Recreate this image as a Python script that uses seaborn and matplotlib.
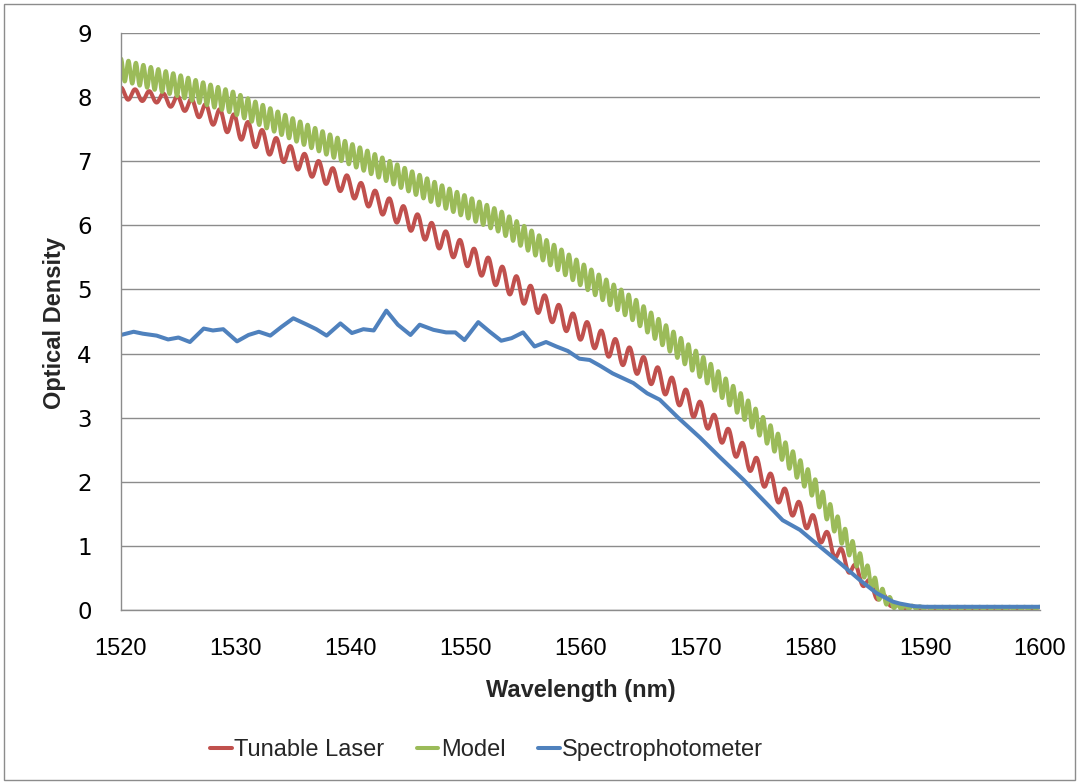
import numpy as np
import pandas as pd
import matplotlib
matplotlib.use("Agg")
import matplotlib.pyplot as plt
import seaborn as sns
from matplotlib.patches import Rectangle

# ---------------- data ----------------
x_ticks = [1520, 1530, 1540, 1550, 1560, 1570, 1580, 1590, 1600]
y_ticks = [0, 1, 2, 3, 4, 5, 6, 7, 8, 9]
series_names = ["Tunable Laser", "Model", "Spectrophotometer"]

# Model: centre of the fringe band, fringe half-amplitude, fringe period
model_wl = [1520, 1525, 1529.7, 1535.6, 1541.4, 1544.3, 1548, 1553, 1558.2,
            1564.7, 1571.0, 1574.7, 1577.4, 1580.2, 1583.2, 1586.1, 1587.5,
            1590, 1600]
model_od = [8.43, 8.18, 7.92, 7.45, 7.0, 6.76, 6.45, 6.06, 5.46,
            4.68, 3.72, 3.07, 2.54, 1.94, 1.06, 0.25, 0.05,
            0.035, 0.035]
model_amp = [0.17, 0.17, 0.17, 0.17, 0.17, 0.17, 0.17, 0.17, 0.18,
             0.18, 0.18, 0.18, 0.17, 0.17, 0.16, 0.12, 0.04,
             0.015, 0.015]
model_fringe_nm = 0.65

# Tunable laser: centre of the fringe band, fringe half-amplitude, fringe period
laser_wl = [1520, 1523, 1526, 1530, 1535.6, 1540, 1545, 1550, 1553, 1558.2,
            1561.7, 1564.7, 1568, 1571.0, 1574.7, 1577.4, 1580.2, 1583.2,
            1586.1, 1587.5, 1590, 1600]
laser_od = [8.06, 8.0, 7.87, 7.55, 7.0, 6.6, 6.1, 5.55, 5.2, 4.58,
            4.2, 3.88, 3.45, 3.0, 2.34, 1.8, 1.34, 0.73,
            0.2, 0.06, 0.03, 0.03]
laser_amp = [0.09, 0.08, 0.11, 0.17, 0.15, 0.15, 0.16, 0.17, 0.18, 0.17,
             0.17, 0.17, 0.17, 0.16, 0.16, 0.16, 0.15, 0.12,
             0.08, 0.03, 0.012, 0.012]
laser_fringe_nm = 1.23

# Spectrophotometer
spectro_wl = [1520.0, 1521.1, 1521.9, 1523.1, 1524.1, 1525.0, 1526.0, 1527.2,
              1528.0, 1528.9, 1530.1, 1531.1, 1532.0, 1533.0, 1534.0, 1535.0,
              1536.2, 1537.0, 1537.9, 1539.1, 1540.1, 1541.1, 1542.0, 1543.1,
              1544.1, 1545.2, 1546.0, 1547.2, 1548.3, 1549.1, 1549.9, 1551.1,
              1552.1, 1553.1, 1554.0, 1555.0, 1556.0, 1557.0, 1557.9, 1558.9,
              1559.9, 1560.8, 1561.7, 1562.8, 1564.6, 1565.8, 1566.9, 1568.5,
              1570.4, 1572.1, 1574.2, 1576.2, 1577.6, 1579.1, 1580.5, 1582.6,
              1584.3, 1585.8, 1587.2, 1587.8, 1589.0, 1590.0, 1600.0]
spectro_od = [4.29, 4.34, 4.31, 4.28, 4.22, 4.25, 4.18, 4.39,
              4.36, 4.38, 4.19, 4.29, 4.34, 4.28, 4.42, 4.55,
              4.45, 4.38, 4.28, 4.47, 4.32, 4.38, 4.36, 4.67,
              4.45, 4.29, 4.45, 4.37, 4.33, 4.33, 4.21, 4.49,
              4.34, 4.20, 4.24, 4.33, 4.11, 4.18, 4.11, 4.04,
              3.92, 3.90, 3.81, 3.69, 3.54, 3.38, 3.28, 3.00,
              2.69, 2.39, 2.03, 1.66, 1.40, 1.25, 1.04, 0.73,
              0.47, 0.26, 0.13, 0.10, 0.06, 0.05, 0.05]

# ---------------- build tables ----------------
grid = np.arange(1520.0, 1600.0001, 0.02)


def fringe_table(wl, od, amp, period):
    centre = np.interp(grid, wl, od)
    half = np.interp(grid, wl, amp)
    vals = centre + half * np.cos(2 * np.pi * (grid - grid[0]) / period)
    return pd.DataFrame({"wl": grid, "od": vals})


laser_df = fringe_table(laser_wl, laser_od, laser_amp, laser_fringe_nm)
model_df = fringe_table(model_wl, model_od, model_amp, model_fringe_nm)
spectro_df = pd.DataFrame({"wl": spectro_wl, "od": spectro_od})

# ---------------- style ----------------
sns.set_style("white")
narrow = ["Liberation Sans Narrow", "Liberation Sans", "DejaVu Sans"]
plt.rcParams["font.family"] = narrow

colors = ["#C0504D", "#9BBB59", "#4F81BD"]
grey = "#8c8c8c"

fig = plt.figure(figsize=(10.79, 7.83), dpi=100)
ax = fig.add_axes([121 / 1079, 1 - 610 / 783, (1040 - 121) / 1079, (610 - 33) / 783])

for df, c, name in zip([laser_df, model_df, spectro_df], colors, series_names):
    sns.lineplot(data=df, x="wl", y="od", color=c, lw=2.9, ax=ax,
                 estimator=None, sort=False, label=name, legend=False,
                 solid_joinstyle="round", solid_capstyle="round")

ax.set_xlim(1520, 1600)
ax.set_ylim(0, 9)
ax.set_xticks(x_ticks)
ax.set_yticks(y_ticks)
ax.set_xticklabels([str(t) for t in x_ticks], fontsize=17, family=narrow)
ax.set_yticklabels([str(t) for t in y_ticks], fontsize=16.5, family=["DejaVu Sans"])

ax.yaxis.grid(True, color=grey, lw=1.0)
ax.xaxis.grid(False)
ax.set_axisbelow(True)
for s in ["top", "right"]:
    ax.spines[s].set_visible(False)
for s in ["left", "bottom"]:
    ax.spines[s].set_color(grey)
    ax.spines[s].set_linewidth(1.0)
ax.tick_params(axis="both", direction="out", length=7, width=1, color=grey,
               labelcolor="black")
ax.tick_params(axis="y", pad=14)
ax.tick_params(axis="x", pad=13)

ax.set_xlabel("Wavelength (nm)", fontsize=17, fontweight="bold", family=narrow)
ax.set_ylabel("Optical Density", fontsize=17, fontweight="bold", family=narrow)
ax.xaxis.set_label_coords(0.5, (610 - 690) / 577)
ax.xaxis.label.set_va("center")
ax.yaxis.set_label_coords((55 - 121) / 919, 0.497)
ax.yaxis.label.set_va("center")

handles, labels = ax.get_legend_handles_labels()
leg = fig.legend(handles, labels, loc="center", bbox_to_anchor=(0.451, 1 - 750 / 783),
                 ncol=3, frameon=False, handlelength=0.9, handletextpad=0.1,
                 columnspacing=1.4, prop={"family": narrow, "size": 17})

fig.patches.append(Rectangle((4 / 1079, 3 / 783), 1071 / 1079, 776 / 783,
                             transform=fig.transFigure, fill=False,
                             edgecolor=grey, lw=1.0))

fig.savefig("out.png", dpi=100)
